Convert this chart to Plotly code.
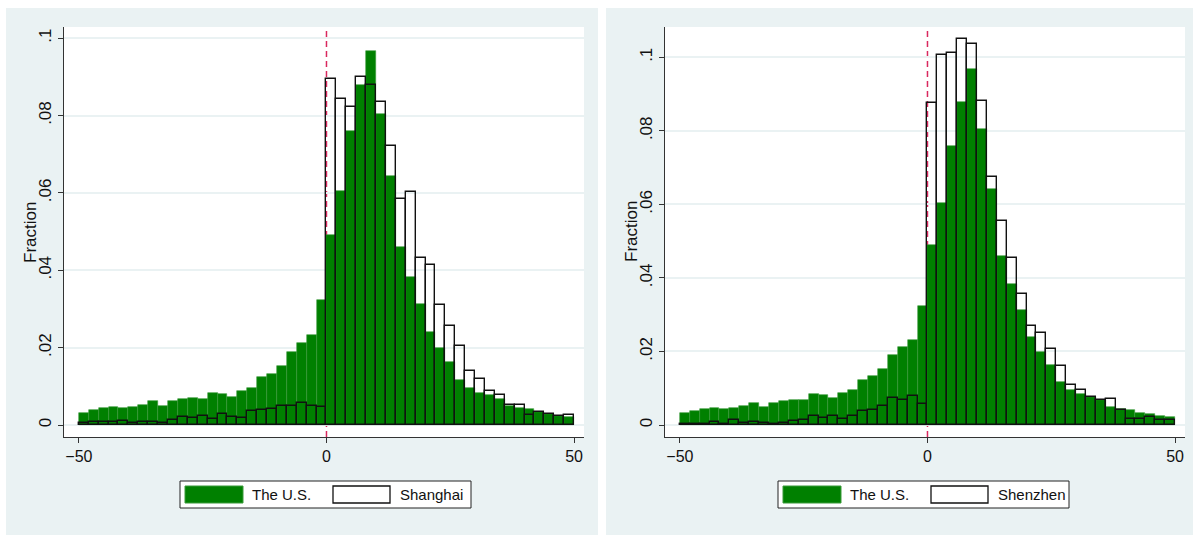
import plotly.graph_objects as go

# ---------------- data ----------------
bin_centers = [-49, -47, -45, -43, -41, -39, -37, -35, -33, -31,
               -29, -27, -25, -23, -21, -19, -17, -15, -13, -11,
               -9, -7, -5, -3, -1, 1, 3, 5, 7, 9,
               11, 13, 15, 17, 19, 21, 23, 25, 27, 29,
               31, 33, 35, 37, 39, 41, 43, 45, 47, 49]

us_frac = [0.0032, 0.0039, 0.0044, 0.0046, 0.0043, 0.0047, 0.0052, 0.0061, 0.0048, 0.0061,
           0.0066, 0.0069, 0.0067, 0.0084, 0.0081, 0.0073, 0.0088, 0.0095, 0.0123, 0.0132,
           0.0153, 0.0190, 0.0211, 0.0232, 0.0323, 0.0490, 0.0604, 0.0760, 0.0879, 0.0968,
           0.0804, 0.0643, 0.0460, 0.0383, 0.0313, 0.0240, 0.0198, 0.0163, 0.0116, 0.0096,
           0.0084, 0.0077, 0.0068, 0.0049, 0.0043, 0.0042, 0.0034, 0.0029, 0.0024, 0.0022]

shanghai_frac = [0.0004, 0.0008, 0.0007, 0.0009, 0.0011, 0.0004, 0.0008, 0.0009, 0.0006, 0.0014,
                 0.0022, 0.0017, 0.0024, 0.0016, 0.0029, 0.0022, 0.0018, 0.0036, 0.0038, 0.0041,
                 0.0048, 0.0048, 0.0057, 0.0048, 0.0047, 0.0894, 0.0842, 0.0823, 0.0899, 0.0878,
                 0.0835, 0.0721, 0.0585, 0.0603, 0.0432, 0.0414, 0.0309, 0.0257, 0.0205, 0.0140,
                 0.0120, 0.0089, 0.0078, 0.0053, 0.0051, 0.0025, 0.0034, 0.0028, 0.0023, 0.0027]

shenzhen_frac = [0.0002, 0.0004, 0.0002, 0.0007, 0.0002, 0.0014, 0.0006, 0.0009, 0.0005, 0.0004,
                 0.0006, 0.0012, 0.0015, 0.0025, 0.0018, 0.0024, 0.0016, 0.0025, 0.0037, 0.0041,
                 0.0053, 0.0074, 0.0068, 0.0080, 0.0056, 0.0877, 0.1007, 0.1013, 0.1051, 0.1035,
                 0.0881, 0.0675, 0.0556, 0.0454, 0.0356, 0.0270, 0.0251, 0.0208, 0.0161, 0.0108,
                 0.0096, 0.0075, 0.0068, 0.0071, 0.0041, 0.0016, 0.0017, 0.0023, 0.0014, 0.0013]

x_tickvals = [-50, 0, 50]
x_ticktext = ["\u221250", "0", "50"]
y_tickvals = [0, 0.02, 0.04, 0.06, 0.08, 0.1]
y_ticktext = ["0", ".02", ".04", ".06", ".08", ".1"]
series_names = ["The U.S.", "Shanghai", "Shenzhen"]

# ---------------- style ----------------
W, H = 1193, 535
BG = "#EAF2F3"
GREEN = "#008000"
FONT = "Liberation Sans, Arial, sans-serif"
FS = 16


def px(x):
    return x / W


def py(y):
    return 1 - y / H


fig = go.Figure()

panels = [
    dict(city=shanghai_frac, name=series_names[1], xa="x", ya="y",
         dom=(64, 584), yr=[-0.0031, 0.1029], lx=180),
    dict(city=shenzhen_frac, name=series_names[2], xa="x2", ya="y2",
         dom=(665, 1185), yr=[-0.00326, 0.10824], lx=778),
]

shapes = []
annotations = []

for i, p in enumerate(panels):
    fig.add_trace(go.Bar(
        x=bin_centers, y=us_frac, width=2, name=series_names[0],
        marker=dict(color=GREEN, line=dict(color="#3a9a3a", width=0.6)),
        xaxis=p["xa"], yaxis=p["ya"], showlegend=False))
    fig.add_trace(go.Bar(
        x=bin_centers, y=p["city"], width=2, name=p["name"],
        marker=dict(color="rgba(0,0,0,0)", line=dict(color="#111111", width=1.4)),
        xaxis=p["xa"], yaxis=p["ya"], showlegend=False))

    sfx = "" if i == 0 else "2"
    fig.layout["xaxis" + sfx] = dict(
        domain=[px(p["dom"][0]), px(p["dom"][1])], range=[-53, 52],
        anchor="y" + sfx, tickvals=x_tickvals, ticktext=x_ticktext,
        ticks="outside", ticklen=5, tickcolor="#333333", tickwidth=1,
        showline=True, linecolor="#333333", linewidth=1,
        showgrid=False, zeroline=False,
        tickfont=dict(family=FONT, size=FS, color="#111111"))
    fig.layout["yaxis" + sfx] = dict(
        domain=[py(437), py(27)], range=p["yr"], anchor="x" + sfx,
        tickvals=y_tickvals, ticktext=y_ticktext, tickangle=-90,
        ticks="outside", ticklen=5, tickcolor="#333333", tickwidth=1,
        showline=True, linecolor="#333333", linewidth=1,
        showgrid=True, gridcolor=BG, gridwidth=1.5, zeroline=False,
        tickfont=dict(family=FONT, size=FS + 1, color="#111111"))

    # reference line at 0
    shapes.append(dict(type="line", xref=p["xa"], yref="paper",
                       x0=0, x1=0, y0=py(437), y1=py(27), layer="below",
                       line=dict(color="#D9285E", width=1.5, dash="6px,4px")))

    # y title
    annotations.append(dict(text="Fraction", xref="paper", yref="paper",
                            x=px(p["dom"][0] - 34), y=py(232), textangle=-90,
                            showarrow=False, xanchor="center", yanchor="middle",
                            font=dict(family=FONT, size=FS + 1, color="#111111")))

    # legend
    lx = p["lx"]
    shapes.append(dict(type="rect", xref="paper", yref="paper",
                       x0=px(lx), x1=px(lx + 291), y0=py(508), y1=py(481),
                       fillcolor="white", line=dict(color="#222222", width=1), layer="above"))
    shapes.append(dict(type="rect", xref="paper", yref="paper",
                       x0=px(lx + 5), x1=px(lx + 63), y0=py(503), y1=py(486),
                       fillcolor=GREEN, line=dict(color="#3a9a3a", width=1), layer="above"))
    shapes.append(dict(type="rect", xref="paper", yref="paper",
                       x0=px(lx + 153), x1=px(lx + 210), y0=py(503), y1=py(486),
                       fillcolor="white", line=dict(color="#111111", width=1.3), layer="above"))
    annotations.append(dict(text=series_names[0], xref="paper", yref="paper",
                            x=px(lx + 70), y=py(494.5), showarrow=False,
                            xanchor="left", yanchor="middle",
                            font=dict(family=FONT, size=FS - 1, color="#111111")))
    annotations.append(dict(text=p["name"], xref="paper", yref="paper",
                            x=px(lx + 218), y=py(494.5), showarrow=False,
                            xanchor="left", yanchor="middle",
                            font=dict(family=FONT, size=FS - 1, color="#111111")))

# white frame strips around/between the two graph panels
for (x0, x1, y0, y1) in [(0, W, 0, 8), (0, 6, 0, H), (598, 606, 0, H)]:
    shapes.append(dict(type="rect", xref="paper", yref="paper",
                       x0=px(x0), x1=px(x1), y0=py(y1), y1=py(y0),
                       fillcolor="white", line=dict(width=0), layer="below"))

fig.update_layout(
    width=W, height=H, margin=dict(l=0, r=0, t=0, b=0),
    paper_bgcolor=BG, plot_bgcolor="white",
    barmode="overlay", bargap=0, showlegend=False,
    shapes=shapes, annotations=annotations,
    font=dict(family=FONT, size=FS, color="#111111"),
)

fig.write_html("out.html")
